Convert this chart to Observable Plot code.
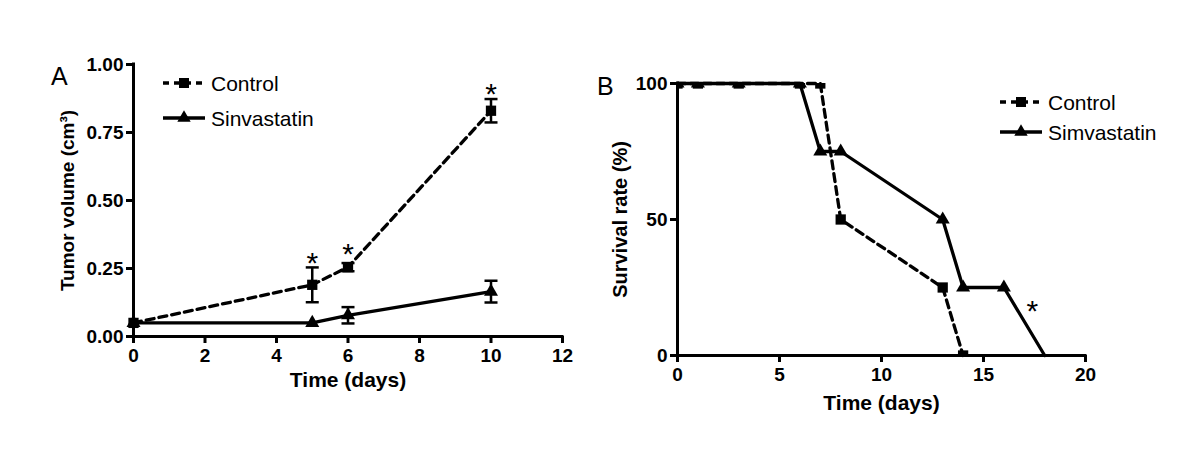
<!DOCTYPE html>
<html>
<head>
<meta charset="utf-8">
<script src="https://cdn.jsdelivr.net/npm/d3@7"></script>
<script src="https://cdn.jsdelivr.net/npm/@observablehq/plot@0.6"></script>
<style>
  html, body { margin: 0; padding: 0; background: white; }
  #wrap { position: relative; width: 1200px; height: 466px; background: white; overflow: hidden; font-family: "Liberation Sans", Arial, sans-serif; }
  #wrap > div, #wrap > svg { position: absolute; top: 0; }
</style>
</head>
<body>
<div id="wrap"></div>
<script>
// ---------- Panel A data (tumor volume) ----------
const daysA = [0, 5, 6, 10];
const controlVol = [0.05, 0.19, 0.255, 0.83];
const controlErr = [0, 0.064, 0.015, 0.043];
const sinvVol = [0.05, 0.05, 0.078, 0.165];
const sinvErr = [0, 0, 0.03, 0.04];
const starDaysA = [5, 6, 10];
const starValsA = [0.30, 0.33, 0.92];
const ticksAx = [0, 2, 4, 6, 8, 10, 12];
const ticksAy = [0, 0.25, 0.5, 0.75, 1];

// ---------- Panel B data (survival) ----------
const daysBControl = [0, 1, 3, 6, 7, 8, 13, 14];
const survControl = [100, 100, 100, 100, 100, 50, 25, 0];
const daysBSimv = [0, 1, 3, 6, 7, 8, 13, 14, 16, 18];
const survSimv = [100, 100, 100, 100, 75, 75, 50, 25, 25, 0];
const starDaysB = [17.4];
const starValsB = [19];
const ticksBx = [0, 5, 10, 15, 20];
const ticksBy = [0, 50, 100];

const tableA = (days, vals, errs) => days.map((d, i) => ({day: d, v: vals[i], e: errs[i]}));
const controlA = tableA(daysA, controlVol, controlErr);
const sinvA = tableA(daysA, sinvVol, sinvErr);
const controlB = daysBControl.map((d, i) => ({day: d, v: survControl[i]}));
const simvB = daysBSimv.map((d, i) => ({day: d, v: survSimv[i]}));
const starsA = starDaysA.map((d, i) => ({day: d, v: starValsA[i]}));
const starsB = starDaysB.map((d, i) => ({day: d, v: starValsB[i]}));

const capSymbol = { draw(ctx) { ctx.moveTo(-6.5, 0); ctx.lineTo(6.5, 0); } };
const FONT = "'Liberation Sans', Arial, sans-serif";
const baseStyle = {fontFamily: FONT, fontWeight: "bold", fontSize: "19px", color: "black", background: "transparent", overflow: "visible"};
const caps = rows => rows.filter(d => d.e > 0).flatMap(d => [{day: d.day, y: d.v - d.e}, {day: d.day, y: d.v + d.e}]);

const plotA = Plot.plot({
  width: 600, height: 466,
  marginLeft: 133, marginRight: 38, marginTop: 64, marginBottom: 130,
  x: {domain: [0, 12]},
  y: {domain: [0, 1]},
  style: baseStyle,
  marks: [
    Plot.axisX({ticks: ticksAx, tickSize: 7, strokeWidth: 3, tickPadding: 5, label: null, fontSize: 19}),
    Plot.axisY({ticks: ticksAy, tickSize: 7, strokeWidth: 3, tickPadding: 3, tickFormat: d3.format(".2f"), label: null, fontSize: 19}),
    Plot.ruleX([0], {strokeWidth: 3, strokeLinecap: "square"}),
    Plot.ruleY([0], {strokeWidth: 3, strokeLinecap: "square"}),
    Plot.text(["Time (days)"], {frameAnchor: "bottom", textAnchor: "middle", dy: 50, fontSize: 21, fontWeight: "bold"}),
    Plot.text(["Tumor volume (cm\u00B3)"], {frameAnchor: "left", textAnchor: "middle", rotate: -90, dx: -66, fontSize: 19, fontWeight: "bold"}),
    // error bars
    Plot.ruleX(controlA.filter(d => d.e > 0), {x: "day", y1: d => d.v - d.e, y2: d => d.v + d.e, strokeWidth: 2.5}),
    Plot.ruleX(sinvA.filter(d => d.e > 0), {x: "day", y1: d => d.v - d.e, y2: d => d.v + d.e, strokeWidth: 2.5}),
    Plot.dot(caps(controlA), {x: "day", y: "y", symbol: capSymbol, stroke: "black", strokeWidth: 2.5, fill: "none"}),
    Plot.dot(caps(sinvA), {x: "day", y: "y", symbol: capSymbol, stroke: "black", strokeWidth: 2.5, fill: "none"}),
    // lines
    Plot.line(controlA, {x: "day", y: "v", strokeWidth: 3.3, strokeDasharray: "8,5"}),
    Plot.line(sinvA, {x: "day", y: "v", strokeWidth: 3.3}),
    Plot.dot(controlA, {x: "day", y: "v", symbol: "square", r: 5.8, fill: "black", stroke: "none"}),
    Plot.dot(sinvA, {x: "day", y: "v", symbol: "triangle", r: 5.2, fill: "black", stroke: "none"}),
    Plot.text(starsA, {x: "day", y: "v", text: () => "*", fontSize: 30, fontWeight: "normal", dy: 8})
  ]
});

const plotB = Plot.plot({
  width: 600, height: 466,
  marginLeft: 77, marginRight: 115, marginTop: 83, marginBottom: 111,
  x: {domain: [0, 20]},
  y: {domain: [0, 100]},
  style: baseStyle,
  marks: [
    Plot.axisX({ticks: ticksBx, tickSize: 7, strokeWidth: 3, tickPadding: 5, label: null, fontSize: 19}),
    Plot.axisY({ticks: ticksBy, tickSize: 7, strokeWidth: 3, tickPadding: 3, label: null, fontSize: 19}),
    Plot.ruleX([0], {strokeWidth: 3, strokeLinecap: "square"}),
    Plot.ruleY([0], {strokeWidth: 3, strokeLinecap: "square"}),
    Plot.text(["Time (days)"], {frameAnchor: "bottom", textAnchor: "middle", dy: 54, fontSize: 21, fontWeight: "bold"}),
    Plot.text(["Survival rate (%)"], {frameAnchor: "left", textAnchor: "middle", rotate: -90, dx: -57, fontSize: 20, fontWeight: "bold"}),
    Plot.line(controlB, {x: "day", y: "v", strokeWidth: 3.3, strokeDasharray: "8,5"}),
    Plot.line(simvB, {x: "day", y: "v", strokeWidth: 3.3}),
    Plot.dot(controlB, {x: "day", y: "v", symbol: "square", r: 5.8, fill: "black", stroke: "none", clip: true}),
    Plot.dot(simvB.filter(d => d.v > 0), {x: "day", y: "v", symbol: "triangle", r: 5.2, fill: "black", stroke: "none", clip: true}),
    Plot.text(starsB, {x: "day", y: "v", text: () => "*", fontSize: 30, fontWeight: "normal", dy: 8})
  ]
});

const wrap = document.getElementById("wrap");
plotA.style.left = "0px";
plotB.style.left = "600px";
wrap.appendChild(plotA);
wrap.appendChild(plotB);

// ---------- overlay: panel letters and legends ----------
const ov = d3.select(wrap).append("svg")
  .attr("width", 1200).attr("height", 466)
  .style("left", "0px").style("pointer-events", "none")
  .attr("font-family", FONT);

ov.append("text").attr("x", 51).attr("y", 85).attr("font-size", 25).text("A");
ov.append("text").attr("x", 597).attr("y", 95).attr("font-size", 25).text("B");

function legend(g, x0, y0, gap, labels) {
  const rows = [
    {label: labels[0], dash: "6,5", sym: d3.symbolSquare, size: 100},
    {label: labels[1], dash: null, sym: d3.symbolTriangle, size: 78}
  ];
  rows.forEach((r, i) => {
    const y = y0 + i * gap;
    g.append("line").attr("x1", x0).attr("x2", x0 + 42).attr("y1", y).attr("y2", y)
      .attr("stroke", "black").attr("stroke-width", 3.3)
      .attr("stroke-dasharray", r.dash);
    g.append("path").attr("d", d3.symbol(r.sym, r.size)())
      .attr("transform", `translate(${x0 + 21},${y})`).attr("fill", "black");
    g.append("text").attr("x", x0 + 48).attr("y", y + 7.5).attr("font-size", 21).text(r.label);
  });
}
legend(ov.append("g"), 163, 83, 35, ["Control", "Sinvastatin"]);
legend(ov.append("g"), 1000, 102, 30, ["Control", "Simvastatin"]);
</script>
</body>
</html>
